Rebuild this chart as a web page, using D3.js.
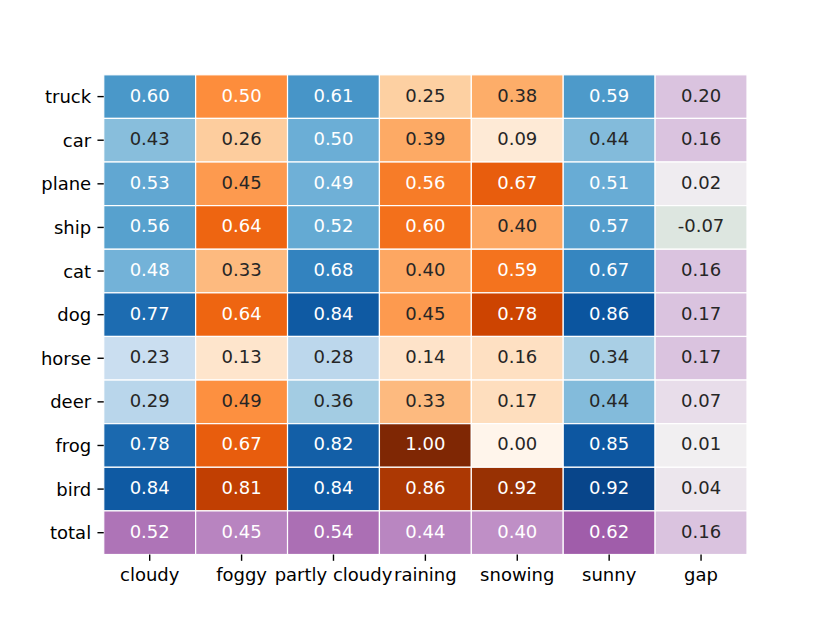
<!DOCTYPE html>
<html>
<head>
<meta charset="utf-8">
<script src="https://cdn.jsdelivr.net/npm/d3@7"></script>
<style>
  body { margin: 0; background: #fff; }
  text { font-family: "DejaVu Sans", sans-serif; }
</style>
</head>
<body>
<script>
// columns and rows of the table
var columns = ["cloudy", "foggy", "partly cloudy", "raining", "snowing", "sunny", "gap"];
var rows = ["truck", "car", "plane", "ship", "cat", "dog", "horse", "deer", "frog", "bird", "total"];

// which palette each column uses
var colGroup = ["blue", "orange", "blue", "orange", "orange", "blue", "gap"];

// one array per row, same order as columns
var truck = [0.60, 0.50, 0.61, 0.25, 0.38, 0.59, 0.20];
var car   = [0.43, 0.26, 0.50, 0.39, 0.09, 0.44, 0.16];
var plane = [0.53, 0.45, 0.49, 0.56, 0.67, 0.51, 0.02];
var ship  = [0.56, 0.64, 0.52, 0.60, 0.40, 0.57, -0.07];
var cat   = [0.48, 0.33, 0.68, 0.40, 0.59, 0.67, 0.16];
var dog   = [0.77, 0.64, 0.84, 0.45, 0.78, 0.86, 0.17];
var horse = [0.23, 0.13, 0.28, 0.14, 0.16, 0.34, 0.17];
var deer  = [0.29, 0.49, 0.36, 0.33, 0.17, 0.44, 0.07];
var frog  = [0.78, 0.67, 0.82, 1.00, 0.00, 0.85, 0.01];
var bird  = [0.84, 0.81, 0.84, 0.86, 0.92, 0.92, 0.04];
var total = [0.52, 0.45, 0.54, 0.44, 0.40, 0.62, 0.16];

var values = [truck, car, plane, ship, cat, dog, horse, deer, frog, bird, total];

var w = 830;
var h = 623;
var svg = d3.select("body").append("svg")
    .attr("width", w)
    .attr("height", h);

var x = d3.scaleBand().domain(columns).range([103.75, 747]);
var y = d3.scaleBand().domain(rows).range([74.8, 554.5]);

// colour scales (linear through brewer stops, like matplotlib)
var stops9 = d3.range(9).map(function(i) { return i / 8; });
var blues = d3.scaleLinear().domain(stops9)
    .range(["#f7fbff", "#deebf7", "#c6dbef", "#9ecae1", "#6baed6", "#4292c6", "#2171b5", "#08519c", "#08306b"])
    .clamp(true);
var oranges = d3.scaleLinear().domain(stops9)
    .range(["#fff5eb", "#fee6ce", "#fdd0a2", "#fdae6b", "#fd8d3c", "#f16913", "#d94801", "#a63603", "#7f2704"])
    .clamp(true);
var gapColor = d3.scaleLinear().domain([-0.16, 0, 0.16])
    .range(["#c2d7c9", "#f2f2f2", "#dac3df"])
    .interpolate(d3.interpolateRgb)
    .clamp(true);
var totalColor = d3.scaleLinear().domain([0.40, 0.62])
    .range(["#bf8fc6", "#a05daa"])
    .clamp(true);

function cellColor(r, c, v) {
  if (colGroup[c] == "gap") return gapColor(v);
  if (rows[r] == "total") return totalColor(v);
  if (colGroup[c] == "blue") return blues(v);
  return oranges(v);
}

// seaborn style text colour pick
function lum(col) {
  var rgb = d3.rgb(col);
  var f = function(u) {
    u = u / 255;
    return u <= 0.03928 ? u / 12.92 : Math.pow((u + 0.055) / 1.055, 2.4);
  };
  return 0.2126 * f(rgb.r) + 0.7152 * f(rgb.g) + 0.0722 * f(rgb.b);
}

var cells = [];
values.forEach(function(row, r) {
  row.forEach(function(v, c) {
    cells.push({ r: r, c: c, v: v, color: cellColor(r, c, v) });
  });
});

var g = svg.append("g");

g.selectAll("rect")
    .data(cells)
  .enter().append("rect")
    .attr("x", function(d) { return x(columns[d.c]); })
    .attr("y", function(d) { return y(rows[d.r]); })
    .attr("width", x.bandwidth())
    .attr("height", y.bandwidth())
    .attr("fill", function(d) { return d.color; })
    .attr("stroke", "white")
    .attr("stroke-width", 1.2);

g.selectAll("text.ann")
    .data(cells)
  .enter().append("text")
    .attr("class", "ann")
    .attr("x", function(d) { return x(columns[d.c]) + x.bandwidth() / 2; })
    .attr("y", function(d) { return y(rows[d.r]) + y.bandwidth() / 2 + 5; })
    .attr("text-anchor", "middle")
    .attr("font-size", "18px")
    .attr("fill", function(d) { return lum(d.color) > 0.408 ? "#262626" : "#ffffff"; })
    .text(function(d) { return d3.format(".2f")(d.v).replace("−", "-"); });

// axes
var xAxis = svg.append("g")
    .attr("transform", "translate(0,554.5)")
    .call(d3.axisBottom(x).tickSize(6.3).tickPadding(6.3));
var yAxis = svg.append("g")
    .attr("transform", "translate(103.75,0)")
    .call(d3.axisLeft(y).tickSize(6.3).tickPadding(6.3));

[xAxis, yAxis].forEach(function(a) {
  a.select(".domain").remove();
  a.selectAll("line").attr("stroke", "#000").attr("stroke-width", 1.4);
  a.selectAll("text")
      .attr("font-family", "DejaVu Sans, sans-serif")
      .attr("font-size", "18px")
      .attr("fill", "#000");
});
xAxis.selectAll("text").attr("dy", "0.76em");
yAxis.selectAll("text").attr("dy", "0.36em");
</script>
</body>
</html>
